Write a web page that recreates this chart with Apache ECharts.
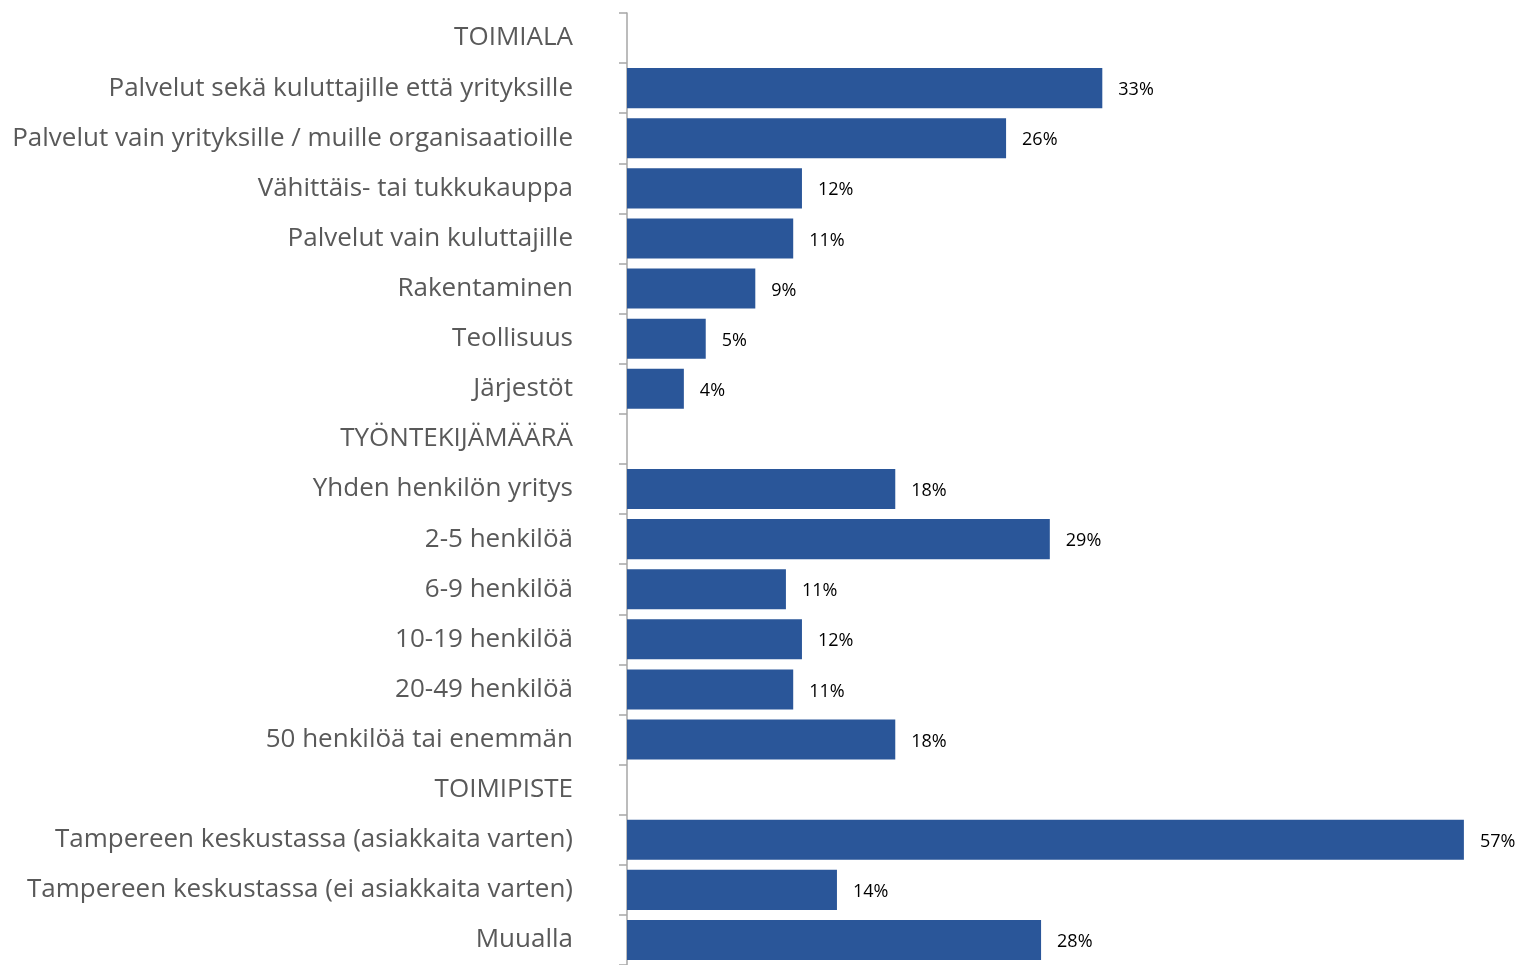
<!DOCTYPE html>
<html><head><meta charset="utf-8">
<script src="https://cdn.jsdelivr.net/npm/echarts@6/dist/echarts.min.js"></script>
<style>html,body{margin:0;padding:0;background:#fff}#c{width:1519px;height:965px}</style>
</head><body><div id="c"></div>
<script>
const categories = [
  'TOIMIALA',
  'Palvelut sekä kuluttajille että yrityksille',
  'Palvelut vain yrityksille / muille organisaatioille',
  'Vähittäis- tai tukkukauppa',
  'Palvelut vain kuluttajille',
  'Rakentaminen',
  'Teollisuus',
  'Järjestöt',
  'TYÖNTEKIJÄMÄÄRÄ',
  'Yhden henkilön yritys',
  '2-5 henkilöä',
  '6-9 henkilöä',
  '10-19 henkilöä',
  '20-49 henkilöä',
  '50 henkilöä tai enemmän',
  'TOIMIPISTE',
  'Tampereen keskustassa (asiakkaita varten)',
  'Tampereen keskustassa (ei asiakkaita varten)',
  'Muualla'
];
const values = [null, 32.6, 26.0, 12.0, 11.4, 8.8, 5.4, 3.9, null, 18.4, 29.0, 10.9, 12.0, 11.4, 18.4, null, 57.4, 14.4, 28.4];

const chart = echarts.init(document.getElementById('c'), null, {renderer: 'canvas'});
chart.setOption({
  animation: false,
  grid: {left: 627, top: 13, width: 874.8, height: 952.5, containLabel: false},
  xAxis: {type: 'value', min: 0, max: 60, show: false},
  yAxis: {
    type: 'category', data: categories, inverse: true,
    axisLine: {show: true, lineStyle: {color: '#a6a6a6', width: 1.5}},
    axisTick: {show: true, length: 8, lineStyle: {color: '#a6a6a6', width: 1.5}},
    axisLabel: {color: '#595959', fontFamily: 'Open Sans', fontSize: 26, margin: 54, padding: [2, 0, 0, 0]}
  },
  series: [{
    type: 'bar',
    data: values.map(v => v === null ? '-' : v),
    barCategoryGap: '20%',
    itemStyle: {color: '#2A5699'},
    label: {
      show: true, position: 'right', distance: 16, offset: [0, 2],
      color: '#000', fontFamily: 'Open Sans', fontSize: 18,
      formatter: p => (typeof p.value === 'number') ? Math.round(p.value) + '%' : ''
    }
  }]
});
</script></body></html>
